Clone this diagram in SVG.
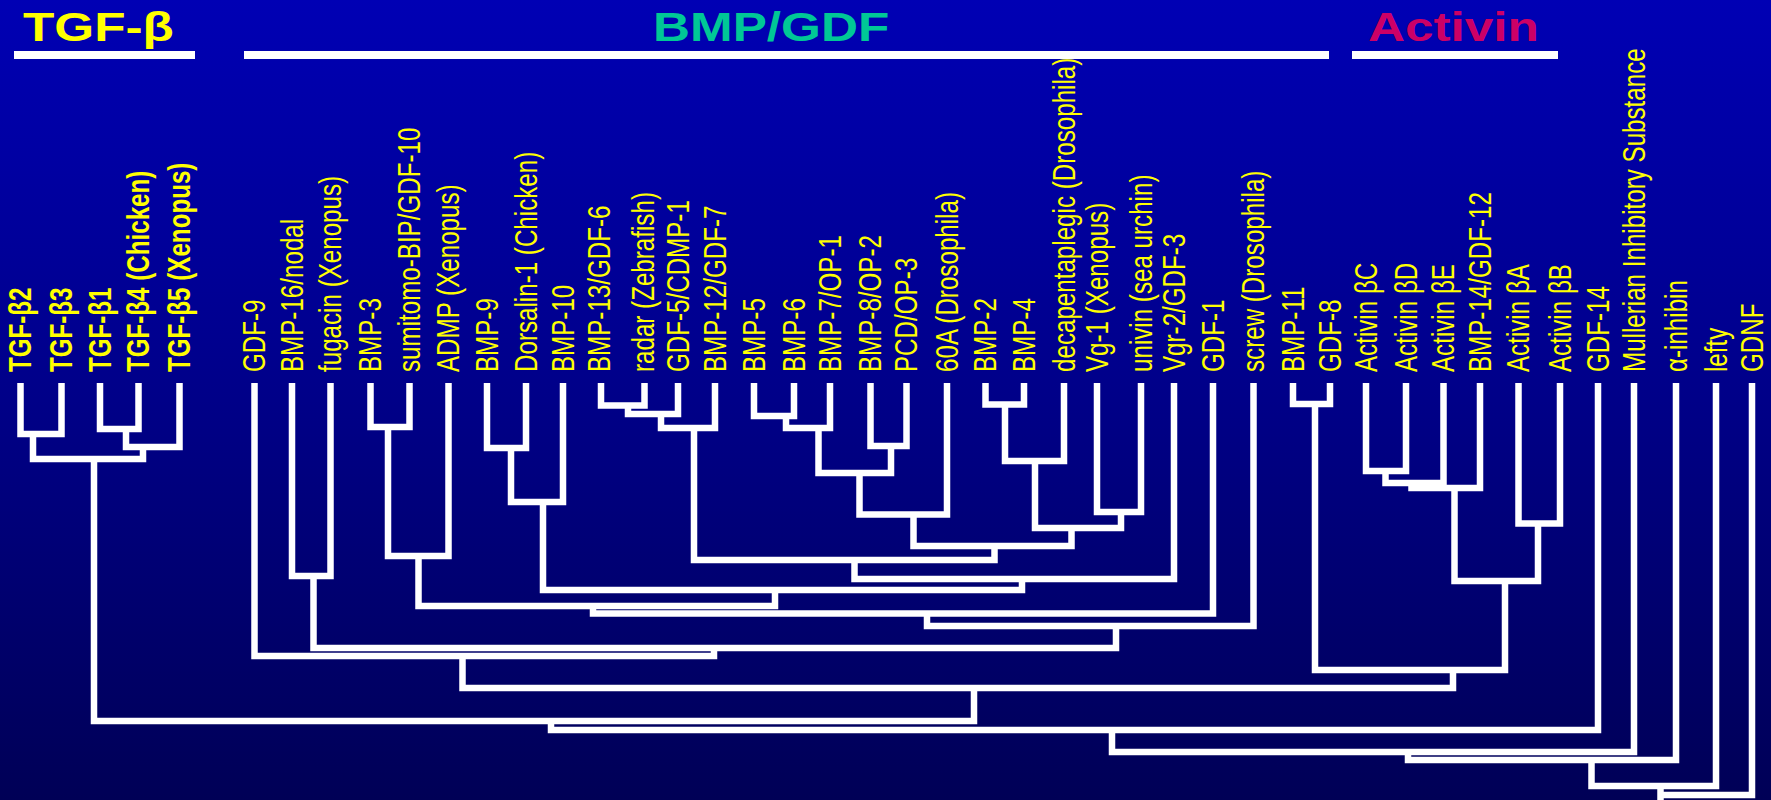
<svg xmlns="http://www.w3.org/2000/svg" width="1771" height="800" viewBox="0 0 1771 800">
<defs>
<linearGradient id="bg" x1="0" y1="0" x2="0" y2="1">
<stop offset="0" stop-color="#0000B4"/>
<stop offset="0.5" stop-color="#000088"/>
<stop offset="1" stop-color="#000056"/>
</linearGradient>
<style>
.lbl{font-family:"Liberation Sans",Arial,sans-serif;font-size:31px;fill:#FFFF00}
.b{font-weight:bold}
.hdr{font-family:"Liberation Sans",Arial,sans-serif;font-size:41px;font-weight:bold}
.br{fill:none;stroke:#FFFFFF;stroke-width:6.5;stroke-linejoin:miter;stroke-linecap:butt}
.bar{fill:#FFFFFF}
</style>
</defs>
<rect x="0" y="0" width="1771" height="800" fill="url(#bg)"/>

<g id="header-tgf">
<text class="hdr" fill="#FFFF00" transform="translate(23,41) scale(1.25,1)">TGF-β</text>
<rect class="bar" x="14" y="51" width="181" height="8"/>
</g>
<g id="header-bmp">
<text class="hdr" fill="#00C896" transform="translate(653,41) scale(1.25,1)">BMP/GDF</text>
<rect class="bar" x="244" y="51" width="1085" height="8"/>
</g>
<g id="header-activin">
<text class="hdr" fill="#CC0066" transform="translate(1368,41) scale(1.25,1)">Activin</text>
<rect class="bar" x="1352" y="51" width="206" height="8"/>
</g>

<g id="leaves">
<g id="n-tgfb2"><text class="lbl b" transform="translate(31,372) rotate(-90) scale(0.78,1)">TGF-β2</text></g>
<g id="n-tgfb3"><text class="lbl b" transform="translate(72,372) rotate(-90) scale(0.78,1)">TGF-β3</text></g>
<g id="n-tgfb1"><text class="lbl b" transform="translate(110.5,372) rotate(-90) scale(0.78,1)">TGF-β1</text></g>
<g id="n-tgfb4"><text class="lbl b" transform="translate(149,372) rotate(-90) scale(0.78,1)">TGF-β4 (Chicken)</text></g>
<g id="n-tgfb5"><text class="lbl b" transform="translate(190,372) rotate(-90) scale(0.78,1)">TGF-β5 (Xenopus)</text></g>
<g id="n-gdf9"><text class="lbl" transform="translate(265,372) rotate(-90) scale(0.78,1)">GDF-9</text></g>
<g id="n-bmp16"><text class="lbl" transform="translate(302.5,372) rotate(-90) scale(0.78,1)">BMP-16/nodal</text></g>
<g id="n-fugacin"><text class="lbl" transform="translate(341,372) rotate(-90) scale(0.78,1)">fugacin (Xenopus)</text></g>
<g id="n-bmp3"><text class="lbl" transform="translate(381,372) rotate(-90) scale(0.78,1)">BMP-3</text></g>
<g id="n-sumitomo"><text class="lbl" transform="translate(420,372) rotate(-90) scale(0.78,1)">sumitomo-BIP/GDF-10</text></g>
<g id="n-admp"><text class="lbl" transform="translate(459,372) rotate(-90) scale(0.78,1)">ADMP (Xenopus)</text></g>
<g id="n-bmp9"><text class="lbl" transform="translate(497.5,372) rotate(-90) scale(0.78,1)">BMP-9</text></g>
<g id="n-dorsalin"><text class="lbl" transform="translate(536.5,372) rotate(-90) scale(0.78,1)">Dorsalin-1 (Chicken)</text></g>
<g id="n-bmp10"><text class="lbl" transform="translate(573.5,372) rotate(-90) scale(0.78,1)">BMP-10</text></g>
<g id="n-bmp13"><text class="lbl" transform="translate(610,372) rotate(-90) scale(0.78,1)">BMP-13/GDF-6</text></g>
<g id="n-radar"><text class="lbl" transform="translate(654,372) rotate(-90) scale(0.78,1)">radar (Zebrafish)</text></g>
<g id="n-gdf5"><text class="lbl" transform="translate(688.5,372) rotate(-90) scale(0.78,1)">GDF-5/CDMP-1</text></g>
<g id="n-bmp12"><text class="lbl" transform="translate(725.5,372) rotate(-90) scale(0.78,1)">BMP-12/GDF-7</text></g>
<g id="n-bmp5"><text class="lbl" transform="translate(764.5,372) rotate(-90) scale(0.78,1)">BMP-5</text></g>
<g id="n-bmp6"><text class="lbl" transform="translate(804.5,372) rotate(-90) scale(0.78,1)">BMP-6</text></g>
<g id="n-bmp7"><text class="lbl" transform="translate(840.5,372) rotate(-90) scale(0.78,1)">BMP-7/OP-1</text></g>
<g id="n-bmp8"><text class="lbl" transform="translate(881,372) rotate(-90) scale(0.78,1)">BMP-8/OP-2</text></g>
<g id="n-pcd"><text class="lbl" transform="translate(917,372) rotate(-90) scale(0.78,1)">PCD/OP-3</text></g>
<g id="n-60a"><text class="lbl" transform="translate(957.5,372) rotate(-90) scale(0.78,1)">60A (Drosophila)</text></g>
<g id="n-bmp2"><text class="lbl" transform="translate(996,372) rotate(-90) scale(0.78,1)">BMP-2</text></g>
<g id="n-bmp4"><text class="lbl" transform="translate(1034.5,372) rotate(-90) scale(0.78,1)">BMP-4</text></g>
<g id="n-dpp"><text class="lbl" transform="translate(1074.5,372) rotate(-90) scale(0.78,1)">decapentaplegic (Drosophila)</text></g>
<g id="n-vg1"><text class="lbl" transform="translate(1107.5,372) rotate(-90) scale(0.78,1)">Vg-1 (Xenopus)</text></g>
<g id="n-univin"><text class="lbl" transform="translate(1151.5,372) rotate(-90) scale(0.78,1)">univin (sea urchin)</text></g>
<g id="n-vgr2"><text class="lbl" transform="translate(1184.5,372) rotate(-90) scale(0.78,1)">Vgr-2/GDF-3</text></g>
<g id="n-gdf1"><text class="lbl" transform="translate(1223.5,372) rotate(-90) scale(0.78,1)">GDF-1</text></g>
<g id="n-screw"><text class="lbl" transform="translate(1264,372) rotate(-90) scale(0.78,1)">screw (Drosophila)</text></g>
<g id="n-bmp11"><text class="lbl" transform="translate(1303.5,372) rotate(-90) scale(0.78,1)">BMP-11</text></g>
<g id="n-gdf8"><text class="lbl" transform="translate(1340.5,372) rotate(-90) scale(0.78,1)">GDF-8</text></g>
<g id="n-actc"><text class="lbl" transform="translate(1376.5,372) rotate(-90) scale(0.78,1)">Activin βC</text></g>
<g id="n-actd"><text class="lbl" transform="translate(1416.5,372) rotate(-90) scale(0.78,1)">Activin βD</text></g>
<g id="n-acte"><text class="lbl" transform="translate(1454,372) rotate(-90) scale(0.78,1)">Activin βE</text></g>
<g id="n-bmp14"><text class="lbl" transform="translate(1490.5,372) rotate(-90) scale(0.78,1)">BMP-14/GDF-12</text></g>
<g id="n-acta"><text class="lbl" transform="translate(1529,372) rotate(-90) scale(0.78,1)">Activin βA</text></g>
<g id="n-actb"><text class="lbl" transform="translate(1570.5,372) rotate(-90) scale(0.78,1)">Activin βB</text></g>
<g id="n-gdf14"><text class="lbl" transform="translate(1609,372) rotate(-90) scale(0.78,1)">GDF-14</text></g>
<g id="n-mis"><text class="lbl" transform="translate(1645,372) rotate(-90) scale(0.78,1)">Mullerian Inhibitory Substance</text></g>
<g id="n-inhibin"><text class="lbl" transform="translate(1686.5,372) rotate(-90) scale(0.78,1)">α-inhibin</text></g>
<g id="n-lefty"><text class="lbl" transform="translate(1726.5,372) rotate(-90) scale(0.78,1)">lefty</text></g>
<g id="n-gdnf"><text class="lbl" transform="translate(1762.5,372) rotate(-90) scale(0.78,1)">GDNF</text></g>
</g>

<g id="connectors" class="br">
<path class="br" d="M20.5 383 V434 H61.5 V383"/>
<path class="br" d="M100 383 V429 H138.5 V383"/>
<path class="br" d="M126 429 V447 H179.5 V383"/>
<path class="br" d="M33 434 V459 H143 V447"/>
<path class="br" d="M94 459 V721 H974 V688"/>
<path class="br" d="M462.5 656 V688 H1453 V670"/>
<path class="br" d="M254.5 383 V656 H714 V648"/>
<path class="br" d="M313.5 576 V648 H1116 V626"/>
<path class="br" d="M292 383 V576 H330.5 V383"/>
<path class="br" d="M927 613.5 V626 H1253.5 V383"/>
<path class="br" d="M593 606 V613.5 H1213 V383"/>
<path class="br" d="M418.5 556 V606 H775 V590"/>
<path class="br" d="M388 427 V556 H448.5 V383"/>
<path class="br" d="M370.5 383 V427 H409.5 V383"/>
<path class="br" d="M543 502 V590 H1022 V579"/>
<path class="br" d="M511 448 V502 H563 V383"/>
<path class="br" d="M487 383 V448 H526 V383"/>
<path class="br" d="M854.5 560 V579 H1174 V383"/>
<path class="br" d="M694 428 V560 H994.5 V546"/>
<path class="br" d="M661 414 V428 H715 V383"/>
<path class="br" d="M628 405.5 V414 H678 V383"/>
<path class="br" d="M601 383 V405.5 H644.5 V383"/>
<path class="br" d="M913.5 514.5 V546 H1071.5 V528"/>
<path class="br" d="M859.5 473 V514.5 H947 V383"/>
<path class="br" d="M818.5 428 V473 H891 V446"/>
<path class="br" d="M786 416 V428 H830 V383"/>
<path class="br" d="M754 383 V416 H794 V383"/>
<path class="br" d="M870.5 383 V446 H906.5 V383"/>
<path class="br" d="M1035 461 V528 H1121 V512"/>
<path class="br" d="M1005 404.5 V461 H1064 V383"/>
<path class="br" d="M985.5 383 V404.5 H1024 V383"/>
<path class="br" d="M1097 383 V512 H1141 V383"/>
<path class="br" d="M1315 404 V670 H1505 V581"/>
<path class="br" d="M1293 383 V404 H1330 V383"/>
<path class="br" d="M1454.5 488 V581 H1538 V523.5"/>
<path class="br" d="M1411.5 483 V488 H1480 V383"/>
<path class="br" d="M1385.5 471 V483 H1443.5 V383"/>
<path class="br" d="M1366 383 V471 H1406 V383"/>
<path class="br" d="M1518.5 383 V523.5 H1560 V383"/>
<path class="br" d="M551 721 V730 H1598 V383"/>
<path class="br" d="M1112 730 V752 H1634 V383"/>
<path class="br" d="M1408 752 V760 H1676 V383"/>
<path class="br" d="M1591.5 760 V786 H1716 V383"/>
<path class="br" d="M1660.5 786 V800"/>
<path class="br" d="M1752 383 V795 H1660.5"/>
</g>
</svg>
